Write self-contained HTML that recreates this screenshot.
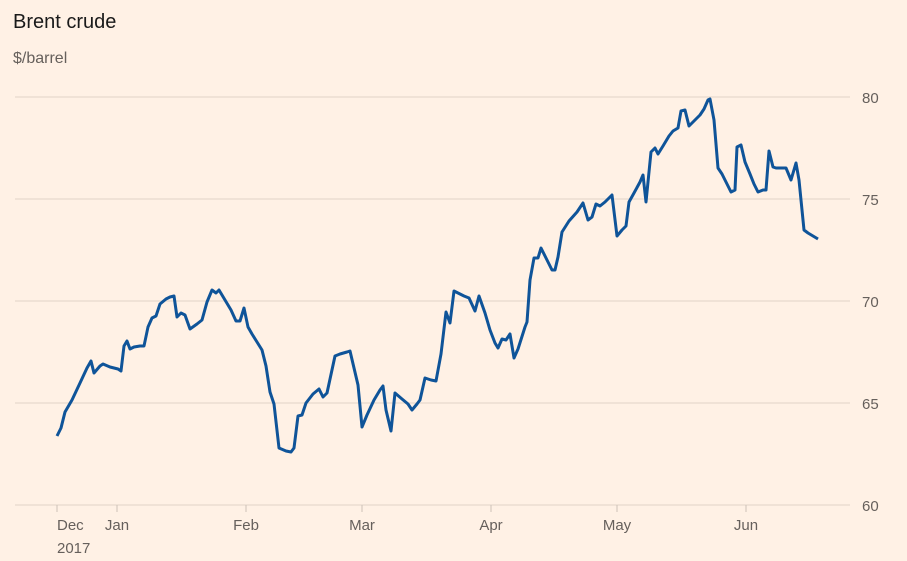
<!DOCTYPE html>
<html><head><style>
html,body{margin:0;padding:0;background:#fff1e5;}
svg{display:block;font-family:"Liberation Sans",sans-serif;}
</style></head><body>
<svg width="907" height="561" viewBox="0 0 907 561" xmlns="http://www.w3.org/2000/svg">
<rect width="907" height="561" fill="#fff1e5"/>
<text x="13" y="28" font-size="20" fill="#1a1a1a">Brent crude</text>
<text x="13" y="63" font-size="16" fill="#66605c">$/barrel</text>
<g stroke="#e6d9ce" stroke-width="1.2">
<line x1="15" x2="850" y1="97" y2="97"/>
<line x1="15" x2="850" y1="199" y2="199"/>
<line x1="15" x2="850" y1="301" y2="301"/>
<line x1="15" x2="850" y1="403" y2="403"/>
<line x1="15" x2="850" y1="505" y2="505"/>
</g>
<g stroke="#ccc1b7" stroke-width="1">
<line x1="57" x2="57" y1="505" y2="512"/>
<line x1="117" x2="117" y1="505" y2="512"/>
<line x1="246" x2="246" y1="505" y2="512"/>
<line x1="362" x2="362" y1="505" y2="512"/>
<line x1="491" x2="491" y1="505" y2="512"/>
<line x1="617" x2="617" y1="505" y2="512"/>
<line x1="746" x2="746" y1="505" y2="512"/>
</g>
<g font-size="15" fill="#66605c">
<text x="862" y="103">80</text>
<text x="862" y="205">75</text>
<text x="862" y="307">70</text>
<text x="862" y="409">65</text>
<text x="862" y="511">60</text>
<text x="57" y="530">Dec</text>
<text x="57" y="553">2017</text>
<text x="117" y="530" text-anchor="middle">Jan</text>
<text x="246" y="530" text-anchor="middle">Feb</text>
<text x="362" y="530" text-anchor="middle">Mar</text>
<text x="491" y="530" text-anchor="middle">Apr</text>
<text x="617" y="530" text-anchor="middle">May</text>
<text x="746" y="530" text-anchor="middle">Jun</text>
</g>
<polyline fill="none" stroke="#0f5499" stroke-width="3" stroke-linejoin="round" points="57,436 61,428 65,412 72,400 80,383 87,368 91,361 94,373 100,366 103,364 110,367 118,369 121,371 124,346 127,341 130,349 134,347 140,346 144,346 148,327 152,318 156,316 160,304 166,299 170,297 174,296 177,317 181,313 185,315 190,329 197,324 202,320 207,302 212,290 216,293 219,290 225,300 231,310 236,321 240,321 244,308 248,327 252,334 257,342 262,350 266,366 270,392 274,404 279,448 286,451 291,452 294,448 298,416 302,415 306,403 313,394 319,389 323,397 327,393 335,356 340,354 347,352 350,351 354,368 358,385 362,427 367,415 374,400 380,390 383,386 386,410 391,431 395,393 402,399 408,404 412,410 417,404 420,400 425,378 431,380 436,381 441,354 446,312 450,323 454,291 460,294 464,296 469,298 475,311 479,296 485,313 490,330 495,343 498,348 502,339 506,340 510,334 514,358 518,349 525,327 527,322 530,280 534,258 538,258 541,248 546,258 552,270 555,270 558,257 562,232 569,221 577,212 583,203 588,220 592,217 596,204 600,206 605,202 612,195 617,236 622,230 626,226 629,202 634,193 640,182 643,175 646,202 651,152 655,148 658,154 663,146 669,136 673,131 678,128 681,111 685,110 689,126 695,120 700,115 704,109 708,100 710,99 714,120 718,168 722,174 727,184 731,192 735,190 737,147 741,145 745,162 750,174 754,184 758,192 763,190 766,190 769,151 773,167 776,168 782,168 786,168 791,180 796,163 799,180 804,230 808,233 813,236 818,239"/>
</svg>
</body></html>
